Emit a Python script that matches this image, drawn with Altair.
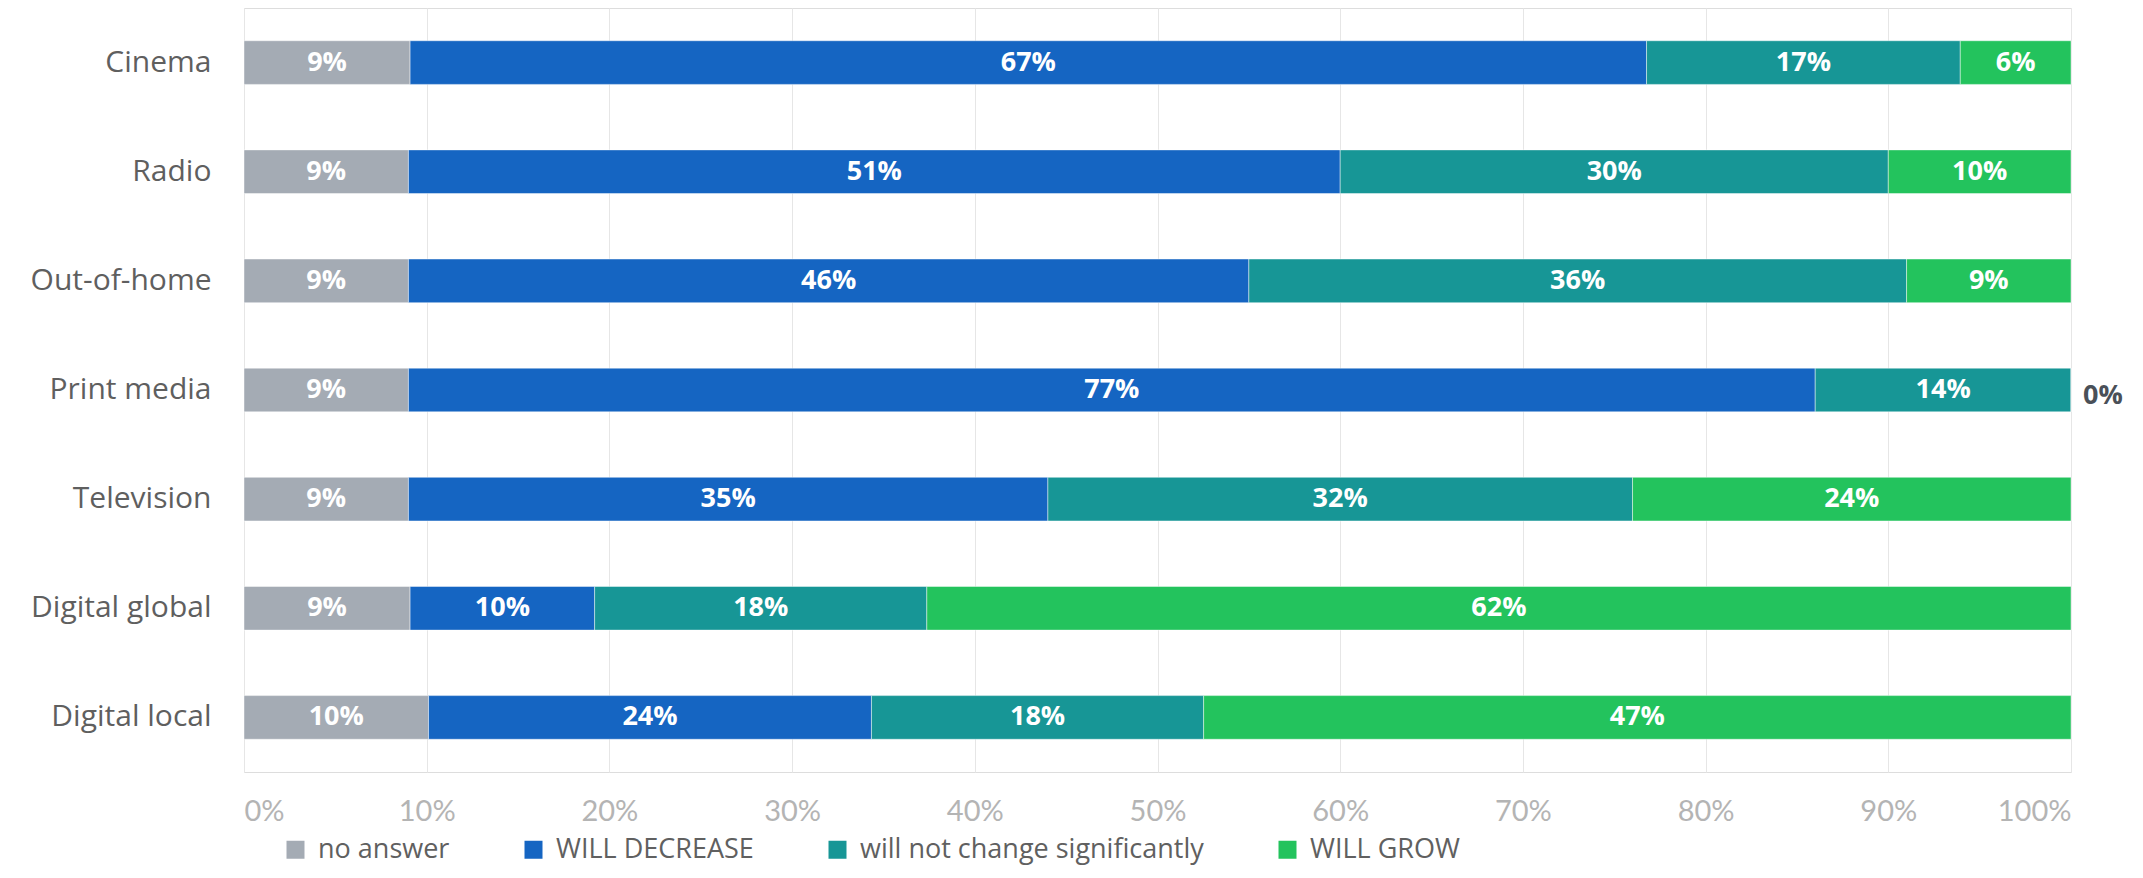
import altair as alt
import pandas as pd

media = ["Cinema", "Radio", "Out-of-home", "Print media", "Television", "Digital global", "Digital local"]
categories = ["no answer", "WILL DECREASE", "will not change significantly", "WILL GROW"]
colors = ["#a4abb4", "#1565c2", "#179696", "#23c35d"]

no_answer = [9, 9, 9, 9, 9, 9, 10]
will_decrease = [67, 51, 46, 77, 35, 10, 24]
no_change = [17, 30, 36, 14, 32, 18, 18]
will_grow = [6, 10, 9, 0, 24, 62, 47]

series = [no_answer, will_decrease, no_change, will_grow]
rows = []
for ci, (cat, vals) in enumerate(zip(categories, series)):
    for m, v in zip(media, vals):
        rows.append({"media": m, "category": cat, "order": ci, "value": v})
df = pd.DataFrame(rows)

FONT = "Open Sans"

base = (
    alt.Chart(df)
    .transform_joinaggregate(total="sum(value)", groupby=["media"])
    .transform_calculate(frac="datum.value / datum.total")
    .transform_stack(stack="frac", groupby=["media"], as_=["x0", "x1"],
                     sort=[alt.SortField("order", order="ascending")])
    .transform_calculate(mid="(datum.x0 + datum.x1) / 2",
                         label="datum.value + '%'")
)

yenc = alt.Y(
    "media:N", sort=media, title=None,
    scale=alt.Scale(paddingInner=0.6, paddingOuter=0.3),
    axis=alt.Axis(labelFontSize=30, labelColor="#5f5f5f", labelFont=FONT,
                  labelPadding=33, ticks=False, domain=False, grid=False, labelLimit=0),
)

xscale = alt.Scale(domain=[0, 1], nice=False)

bars = base.mark_bar(stroke="#ffffff", strokeWidth=1, strokeOpacity=0.45).encode(
    x=alt.X("x0:Q", scale=xscale, title=None,
            axis=alt.Axis(format=".0%", values=[i / 10 for i in range(11)],
                          labelFontSize=29, labelColor="#b4b4b4", labelFont="Lato",
                          labelPadding=25, ticks=False, domain=False,
                          grid=True, gridColor="#e6e6e6", gridWidth=1)),
    x2="x1:Q",
    y=yenc,
    color=alt.Color("category:N", sort=categories,
                    scale=alt.Scale(domain=categories, range=colors),
                    legend=alt.Legend(title=None, orient="none", direction="horizontal",
                                      legendX=38, legendY=828,
                                      symbolType="square", symbolSize=324,
                                      symbolStrokeWidth=0, symbolOpacity=1,
                                      labelFontSize=27, labelColor="#606060", labelFont=FONT,
                                      labelLimit=0,
                                      labelOffset=9, columnPadding=70, padding=0)),
)

text = base.transform_filter("datum.value > 0").mark_text(
    color="white", fontSize=27, fontWeight="bold", font=FONT, baseline="middle"
).encode(
    x=alt.X("mid:Q", scale=xscale),
    y=alt.Y("media:N", sort=media),
    text="label:N",
)

zero_text = base.transform_filter("datum.value == 0").mark_text(
    color="#4a5058", fontSize=27, fontWeight="bold", font=FONT, align="left",
    baseline="middle", dx=12, dy=6
).encode(
    x=alt.X("x1:Q", scale=xscale),
    y=alt.Y("media:N", sort=media),
    text="label:N",
)

chart = (
    alt.layer(bars, text, zero_text)
    .properties(width=1827, height=764,
                autosize=alt.AutoSizeParams(type="none"),
                padding={"left": 236, "top": 0, "right": 60, "bottom": 98})
    .configure_view(fill="#f1f1f1", stroke=None)
    .configure(background="white")
)

chart.save("out.html", embed_options={"renderer": "svg", "actions": False})
